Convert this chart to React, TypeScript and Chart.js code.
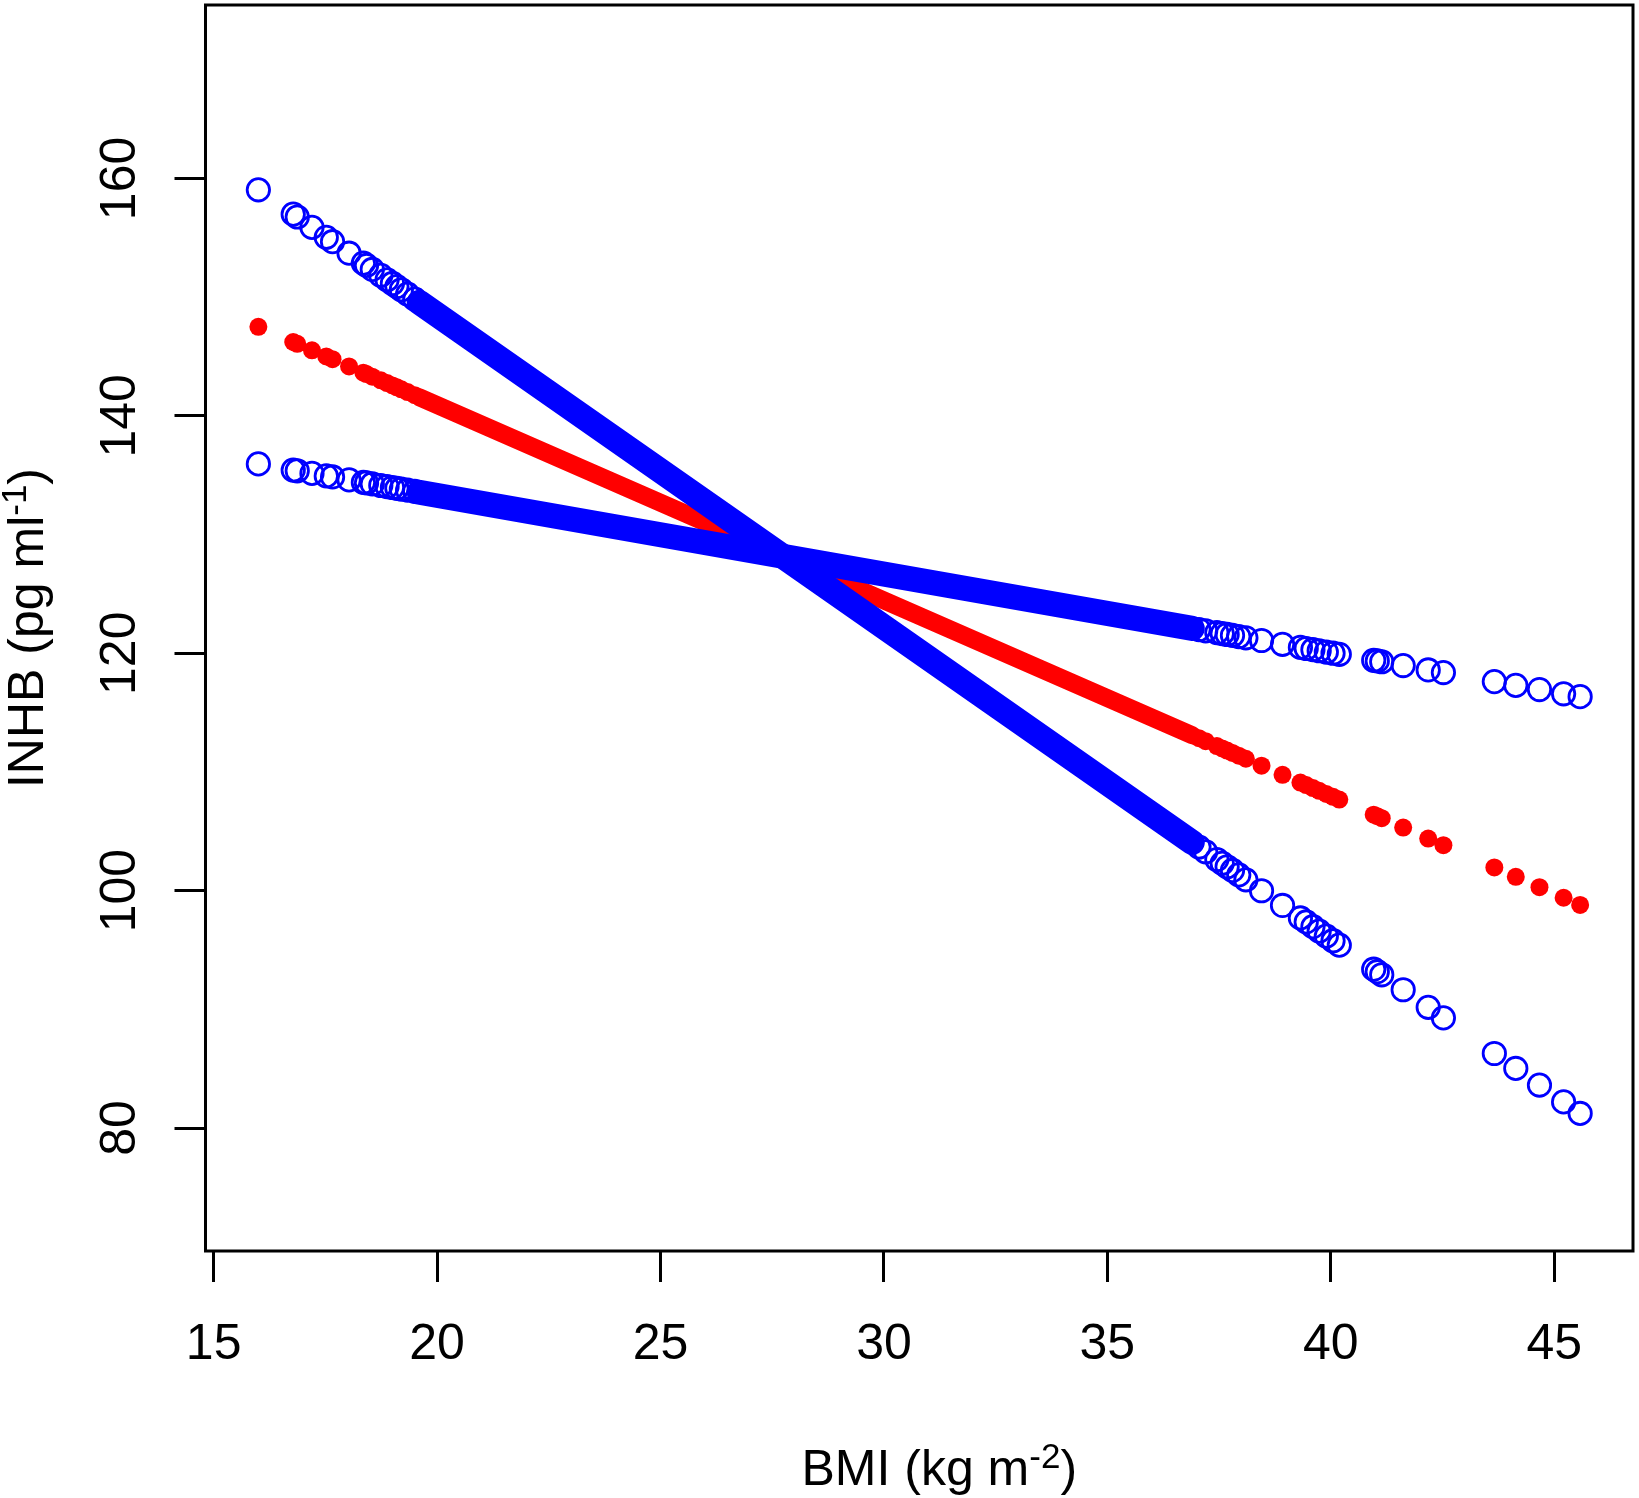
import { useEffect, useRef } from 'react';
import { Chart, registerables } from 'chart.js';

Chart.register(...registerables);

// BMI of the points that stand apart at both ends of the range
const bmi = [
  16.0, 16.78, 16.87, 17.2, 17.52, 17.66, 18.03, 18.35, 18.42, 18.55, 18.74, 18.88,
  19.0, 19.1, 19.2, 19.34, 19.5,
  37.05, 37.2, 37.45, 37.57, 37.68, 37.8, 37.94, 38.1, 38.45, 38.92, 39.32, 39.45,
  39.6, 39.74, 39.9, 40.05, 40.19, 40.96, 41.04, 41.14, 41.62, 42.18, 42.52, 43.66,
  44.14, 44.67, 45.21, 45.58,
];
// fitted INHB (red)
const fitted = [
  147.5, 146.22, 146.07, 145.52, 145.0, 144.77, 144.16, 143.63, 143.52, 143.3, 142.99, 142.76,
  142.56, 142.4, 142.23, 142.0, 141.74,
  112.84, 112.59, 112.18, 111.98, 111.8, 111.6, 111.37, 111.11, 110.53, 109.76, 109.1, 108.89,
  108.64, 108.41, 108.14, 107.9, 107.67, 106.4, 106.27, 106.1, 105.31, 104.39, 103.83, 101.95,
  101.16, 100.29, 99.4, 98.79,
];
// steep bound (blue)
const boundSteep = [
  159.04, 156.99, 156.75, 155.88, 155.04, 154.67, 153.7, 152.86, 152.67, 152.33, 151.83, 151.46,
  151.15, 150.89, 150.62, 150.25, 149.83,
  103.67, 103.27, 102.62, 102.3, 102.01, 101.7, 101.33, 100.91, 99.99, 98.75, 97.7, 97.36,
  96.96, 96.59, 96.17, 95.78, 95.41, 93.38, 93.17, 92.91, 91.65, 90.17, 89.28, 86.28,
  85.02, 83.62, 82.2, 81.23,
];
// shallow bound (blue)
const boundFlat = [
  135.95, 135.43, 135.37, 135.15, 134.94, 134.85, 134.6, 134.39, 134.35, 134.26, 134.13, 134.04,
  133.96, 133.89, 133.83, 133.74, 133.63,
  121.99, 121.89, 121.73, 121.65, 121.58, 121.5, 121.4, 121.3, 121.07, 120.75, 120.49, 120.4,
  120.3, 120.21, 120.1, 120.0, 119.91, 119.4, 119.35, 119.28, 118.96, 118.59, 118.37, 117.61,
  117.29, 116.94, 116.58, 116.34,
];

// middle part, where the points run together into a solid band
const bandBmi = [19.6, 36.9];
const bandFitted = [141.57, 113.08];
const bandSteep = [149.57, 104.06];
const bandFlat = [133.56, 122.09];

const xTicks = [15, 20, 25, 30, 35, 40, 45];
const yTicks = [80, 100, 120, 140, 160];

const xTitle = [{ text: 'BMI (kg m' }, { text: '-2', sup: true }, { text: ')' }];
const yTitle = [{ text: 'INHB (pg ml' }, { text: '-1', sup: true }, { text: ')' }];

const FONT = '"Liberation Sans", Arial, sans-serif';
const BLUE = '#0000ff';
const RED = '#ff0000';

const pts = (xs: number[], ys: number[]) => xs.map((x, i) => ({ x, y: ys[i] }));

function drawTitle(ctx, parts, x, y, vertical) {
  ctx.save();
  ctx.translate(x, y);
  if (vertical) ctx.rotate(-Math.PI / 2);
  ctx.fillStyle = '#000';
  ctx.textAlign = 'left';
  ctx.textBaseline = 'alphabetic';
  const widths = parts.map((p) => {
    ctx.font = `${p.sup ? 35 : 50}px ${FONT}`;
    return ctx.measureText(p.text).width;
  });
  let cur = -widths.reduce((a, b) => a + b, 0) / 2;
  parts.forEach((p, i) => {
    ctx.font = `${p.sup ? 35 : 50}px ${FONT}`;
    ctx.fillText(p.text, cur, p.sup ? -17 : 0);
    cur += widths[i];
  });
  ctx.restore();
}

const framePlugin = {
  id: 'frame',
  afterDraw(chart) {
    const { ctx, chartArea: a } = chart;
    ctx.save();
    ctx.strokeStyle = '#000';
    ctx.lineWidth = 3;
    ctx.strokeRect(a.left, a.top, a.right - a.left, a.bottom - a.top);
    ctx.restore();
    drawTitle(ctx, xTitle, (a.left + a.right) / 2 + 20, a.bottom + 234, false);
    drawTitle(ctx, yTitle, 43, (a.top + a.bottom) / 2, true);
  },
};

const axisGrid = {
  drawOnChartArea: false,
  drawTicks: true,
  tickLength: 31,
  color: '#000',
  lineWidth: 3,
};

const App = () => {
  const canvasRef = useRef(null);

  useEffect(() => {
    if (!canvasRef.current) return;
    document.body.style.margin = '0';

    const circle = {
      pointStyle: 'circle',
      pointRadius: 11.2,
      pointBorderWidth: 2.8,
      pointBorderColor: BLUE,
      pointBackgroundColor: 'rgba(0,0,0,0)',
      showLine: false,
    };
    const band = (width: number, color: string) => ({
      showLine: true,
      pointRadius: 0,
      borderWidth: width,
      borderColor: color,
      borderCapStyle: 'round',
      backgroundColor: color,
    });

    const chart = new Chart(canvasRef.current, {
      type: 'scatter',
      data: {
        datasets: [
          { ...circle, data: pts(bmi, boundSteep) },
          { ...circle, data: pts(bmi, boundFlat) },
          { ...band(25, BLUE), data: pts(bandBmi, bandSteep) },
          { ...band(25, BLUE), data: pts(bandBmi, bandFlat) },
          {
            data: pts(bmi, fitted),
            pointStyle: 'circle',
            pointRadius: 9,
            pointBorderWidth: 0,
            pointBackgroundColor: RED,
            showLine: false,
          },
          { ...band(18, RED), data: pts(bandBmi, bandFitted) },
        ],
      },
      options: {
        responsive: false,
        animation: false,
        events: [],
        layout: { autoPadding: false, padding: { left: 0, right: 6, top: 5, bottom: 0 } },
        plugins: { legend: { display: false }, tooltip: { enabled: false } },
        scales: {
          x: {
            type: 'linear',
            min: 14.817,
            max: 46.763,
            afterBuildTicks: (s) => { s.ticks = xTicks.map((value) => ({ value })); },
            afterFit: (s) => {
              s.height = 247;
              s.paddingLeft = 0;
              s.paddingRight = 0;
            },
            border: { display: false },
            grid: axisGrid,
            ticks: {
              color: '#000',
              font: { family: FONT, size: 50 },
              padding: 33,
              minRotation: 0,
              maxRotation: 0,
              autoSkip: false,
              callback: (v) => String(v),
            },
          },
          y: {
            type: 'linear',
            min: 69.64,
            max: 174.61,
            afterBuildTicks: (s) => { s.ticks = yTicks.map((value) => ({ value })); },
            afterFit: (s) => {
              s.width = 205.5;
              s.paddingTop = 0;
              s.paddingBottom = 0;
            },
            border: { display: false },
            grid: axisGrid,
            ticks: {
              color: '#000',
              font: { family: FONT, size: 50 },
              padding: 12,
              minRotation: 90,
              maxRotation: 90,
              crossAlign: 'center',
              autoSkip: false,
              callback: (v) => String(v),
            },
          },
        },
      },
      plugins: [framePlugin],
    });

    return () => chart.destroy();
  }, []);

  return (
    <div style={{ width: 1639, height: 1498, background: '#fff' }}>
      <canvas ref={canvasRef} width={1639} height={1498} style={{ display: 'block' }} />
    </div>
  );
};

export default App;
